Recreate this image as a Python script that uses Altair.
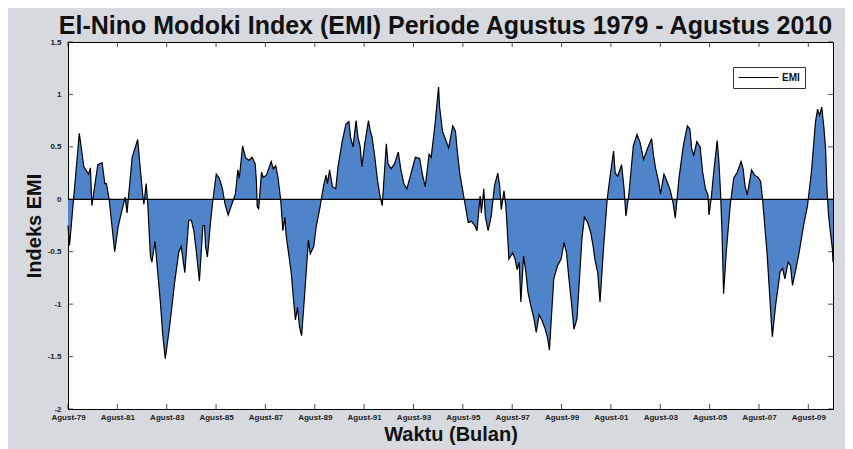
import altair as alt
import pandas as pd

# months since Aug 1979 and EMI values
months = [0.0, 0.75, 5.5, 7.7, 10.0, 10.9, 11.6, 14.5, 16.6, 17.9, 18.7, 20.0, 22.7, 24.5, 26.3, 27.8, 28.7,
          31.2, 33.9, 35.1, 36.3, 36.9, 38.0, 38.8, 40.1, 40.8, 42.3, 43.2, 45.0, 46.1, 47.3, 49.5, 51.8,
          53.9, 55.1, 56.1, 56.8, 58.7, 60.0, 61.2, 62.4, 63.9, 65.6, 66.4, 66.9, 67.8, 69.4, 70.5, 72.1,
          73.6, 75.1, 76.4, 77.9, 79.6, 81.4, 82.6, 83.3,
          84.9, 86.3, 87.9, 89.5, 91.0, 91.6, 92.0, 92.7, 94.1, 94.9, 96.5, 98.8, 99.8, 101.0, 102.1, 103.4,
          104.5, 105.5, 106.0, 107.3, 108.6, 109.8, 110.6, 111.6, 112.6, 113.6, 115.0, 116.9, 117.8, 119.5,
          120.7, 122.6, 124.2, 125.5, 126.2, 127.2, 128.6, 130.2, 131.3, 133.4, 135.2, 136.6, 137.4, 138.6,
          140.1, 141.0, 142.1, 142.9, 144.3, 146.1, 146.9, 147.9, 149.2, 150.5, 151.8, 152.8, 154.8, 155.6,
          157.1, 158.8, 160.6, 161.9, 163.3, 164.8, 166.7, 168.9, 171.0, 172.3, 173.7, 175.6, 176.6, 178.5,
          180.2, 180.7,
          182.1, 183.6, 185.1, 187.1, 188.4, 189.2, 190.5, 191.8, 193.2, 194.6, 196.2, 197.8, 198.9, 200.4,
          201.0, 202.2, 202.9, 204.3, 205.8, 207.4, 209.0, 209.9, 210.7, 212.0, 212.9, 213.6, 214.4, 216.2,
          217.4, 218.4, 219.4, 220.2, 221.5, 222.7, 223.7, 225.1, 226.6, 227.7, 229.1, 230.6, 232.1, 233.3,
          234.1, 236.2, 238.1, 239.8, 241.2, 242.4, 243.6, 244.8, 246.0, 247.5, 249.9, 251.1, 252.7, 254.2,
          255.3, 256.2, 257.6, 258.7, 260.5, 262.2, 263.6, 265.3, 266.1, 267.3, 269.2, 270.4, 271.3, 272.8,
          274.9, 276.7, 278.2, 279.9, 281.7,
          283.8, 284.7, 285.8, 287.2, 288.1, 289.8, 291.3, 292.8, 294.2, 295.3, 297.1, 299.2, 301.2, 302.4,
          303.3, 304.3, 305.8, 307.4, 308.6, 310.0, 311.2, 311.7, 312.8, 314.0, 315.7, 316.5, 317.3, 318.0,
          318.8, 320.1, 322.0, 323.7, 325.5, 327.3, 328.3, 329.2, 330.3, 332.4, 333.9, 335.5, 336.8, 337.7,
          338.8, 340.0, 341.1, 341.9, 342.5, 344.1, 346.3, 347.5, 348.6, 350.2, 351.3, 352.3, 353.7, 355.6,
          357.7, 359.6, 361.5, 363.5, 364.5, 365.5, 366.5, 367.5, 368.4, 369.0, 369.7, 370.7, 371.7, 372.0]

emi = [-0.25, -0.44, 0.63, 0.31, 0.24, 0.30, -0.06, 0.33, 0.35, 0.15, 0.15, 0.0, -0.5, -0.25, -0.1, 0.02, -0.13,
       0.4, 0.57, 0.3, 0.05, -0.05, 0.15, -0.05, -0.55, -0.6, -0.4, -0.6, -1.0, -1.3, -1.52, -1.2, -0.8,
       -0.5, -0.45, -0.6, -0.7, -0.2, -0.2, -0.3, -0.5, -0.78, -0.25, -0.25, -0.45, -0.55, -0.2, 0.0, 0.24,
       0.2, 0.1, -0.05, -0.15, -0.05, 0.05, 0.28, 0.2,
       0.51, 0.40, 0.37, 0.40, 0.34, 0.18, -0.07, -0.09, 0.26, 0.21, 0.23, 0.36, 0.29, 0.32, 0.21, 0.0,
       -0.30, -0.17, -0.33, -0.52, -0.71, -0.99, -1.15, -1.03, -1.22, -1.30, -0.93, -0.39, -0.52, -0.45,
       -0.26, -0.07, 0.12, 0.23, 0.15, 0.28, 0.12, 0.10, 0.31, 0.56, 0.72, 0.74, 0.59, 0.50,
       0.75, 0.59, 0.50, 0.31, 0.53, 0.75, 0.66, 0.59, 0.40, 0.18, 0.02, -0.06, 0.53, 0.34,
       0.29, 0.34, 0.45, 0.28, 0.15, 0.10, 0.24, 0.40, 0.39, 0.24, 0.12, 0.43, 0.40, 0.72,
       1.07, 0.88,
       0.65, 0.57, 0.49, 0.70, 0.65, 0.48, 0.25, 0.10, -0.06, -0.22, -0.21, -0.25, -0.30, 0.03,
       -0.13, 0.10, -0.16, -0.30, -0.16, 0.13, 0.25, 0.13, -0.10, 0.08, -0.06, -0.29, -0.57, -0.51,
       -0.57, -0.67, -0.60, -0.98, -0.54, -0.70, -0.89, -1.02, -1.14, -1.27, -1.10, -1.16, -1.24, -1.33,
       -1.44, -0.76, -0.63, -0.57, -0.41, -0.51, -0.76, -0.98, -1.24, -1.14, -0.38, -0.17, -0.22, -0.32,
       -0.44, -0.57, -0.70, -0.98, -0.44, 0.0, 0.22, 0.46, 0.25, 0.22, 0.33, 0.10, -0.16, 0.06,
       0.51, 0.62, 0.54, 0.38, 0.48,
       0.58, 0.42, 0.29, 0.17, 0.05, 0.24, 0.17, 0.09, -0.03, -0.18, 0.20, 0.51, 0.70, 0.67,
       0.48, 0.42, 0.55, 0.50, 0.26, 0.10, 0.04, -0.15, 0.01, 0.26, 0.56, 0.36, 0.07, -0.30,
       -0.90, -0.50, -0.06, 0.20, 0.26, 0.36, 0.29, 0.13, 0.04, 0.28, 0.23, 0.21, 0.17, 0.01,
       -0.25, -0.53, -0.88, -1.14, -1.31, -1.01, -0.69, -0.66, -0.76, -0.60, -0.63, -0.82, -0.69, -0.50,
       -0.25, -0.06, 0.26, 0.74, 0.86, 0.80, 0.88, 0.70, 0.48, 0.13, -0.12, -0.31, -0.47, -0.60]

x_tick_months = [0, 24, 48, 72, 96, 120, 144, 168, 192, 216, 240, 264, 288, 312, 336, 360]
x_tick_labels = ["Agust-79", "Agust-81", "Agust-83", "Agust-85", "Agust-87", "Agust-89", "Agust-91",
                 "Agust-93", "Agust-95", "Agust-97", "Agust-99", "Agust-01", "Agust-03", "Agust-05",
                 "Agust-07", "Agust-09"]
y_ticks = [-2, -1.5, -1, -0.5, 0, 0.5, 1, 1.5]

W, H = 765, 367
FONT = "Liberation Sans"

df = pd.DataFrame({"m": months, "v": emi, "s": ["EMI"] * len(months)})
label_arr = "[" + ",".join("'%s'" % s for s in x_tick_labels) + "]"

xscale = alt.Scale(domain=[0, 372], nice=False, zero=False)
yscale = alt.Scale(domain=[-2, 1.5], nice=False, zero=False)

xaxis = alt.Axis(values=x_tick_months, labelExpr=label_arr + "[round(datum.value/24)]",
                 ticks=False, domain=False, grid=False, labelFlush=False,
                 labelFontSize=8, labelFont=FONT, labelFontWeight="bold", labelColor="#222",
                 labelPadding=4, title="Waktu (Bulan)", titleFont=FONT, titleFontSize=20,
                 titleFontWeight="bold", titleColor="#111", titlePadding=3)
yaxis = alt.Axis(values=y_ticks, labelExpr="datum.value + ''", ticks=False, domain=False, grid=False,
                 labelFontSize=8, labelFont=FONT, labelFontWeight="bold", labelColor="#222",
                 labelPadding=7, title="Indeks EMI", titleFont=FONT, titleFontSize=20,
                 titleFontWeight="bold", titleColor="#111", titlePadding=3)

base = alt.Chart(df)
area = base.mark_area(color="#4f84cb", opacity=1).encode(
    x=alt.X("m:Q", scale=xscale, axis=xaxis),
    y=alt.Y("v:Q", scale=yscale, axis=yaxis),
    y2=alt.datum(0),
)
line = base.mark_line(strokeWidth=1.2).encode(
    x="m:Q", y="v:Q",
    color=alt.Color("s:N", scale=alt.Scale(domain=["EMI"], range=["black"]),
                    legend=alt.Legend(title=None, orient="none", legendX=665, legendY=25,
                                      symbolType="stroke", symbolSize=1600, symbolStrokeWidth=1,
                                      symbolStrokeColor="black", labelFont=FONT, labelFontSize=10,
                                      labelFontWeight="bold", labelColor="#111", labelOffset=3,
                                      clipHeight=11, padding=5, strokeColor="#333",
                                      fillColor="white")),
)
zero = alt.Chart(pd.DataFrame({"z": [0]})).mark_rule(color="black", strokeWidth=1.2).encode(y="z:Q")

xt = pd.DataFrame({"t": x_tick_months})
yt = pd.DataFrame({"t": y_ticks})
tb = alt.Chart(xt).mark_tick(orient="vertical", size=5, thickness=1, color="black").encode(
    x="t:Q", y=alt.value(H - 2.5))
tt = alt.Chart(xt).mark_tick(orient="vertical", size=5, thickness=1, color="black").encode(
    x="t:Q", y=alt.value(2.5))
tl = alt.Chart(yt).mark_tick(orient="horizontal", size=5, thickness=1, color="black").encode(
    y="t:Q", x=alt.value(2.5))
tr = alt.Chart(yt).mark_tick(orient="horizontal", size=5, thickness=1, color="black").encode(
    y="t:Q", x=alt.value(W - 2.5))

chart = alt.layer(area, line, zero, tb, tt, tl, tr).properties(
    width=W, height=H,
    autosize=alt.AutoSizeParams(type="none"),
    padding={"left": 60, "top": 34, "right": 12, "bottom": 40},
    title=alt.TitleParams("El-Nino Modoki Index (EMI) Periode Agustus 1979 - Agustus 2010",
                          font=FONT, fontSize=25, fontWeight="bold", color="#111",
                          anchor="middle", dx=-5, dy=30, offset=9, baseline="alphabetic"),
).configure(background="#d6dadf").configure_view(fill="white", stroke="black", strokeWidth=1)

chart.save("out.html", embed_options={"renderer": "svg", "actions": False})
